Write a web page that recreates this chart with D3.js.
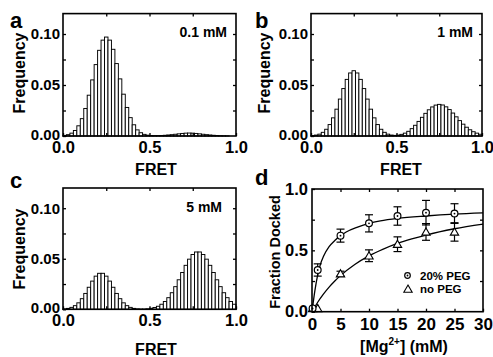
<!DOCTYPE html>
<html><head><meta charset="utf-8">
<script src="https://cdn.jsdelivr.net/npm/d3@7"></script>
<style>
body{margin:0;background:#fff}
svg{display:block}
text{font-family:"Liberation Sans",Arial,Helvetica,sans-serif;font-weight:bold;fill:#000}
</style>
</head><body>
<svg id="chart" width="493" height="357"></svg>
<script>
// ---------- data ----------
const fretBins = [0.01,0.03,0.05,0.07,0.09,0.11,0.13,0.15,0.17,0.19,0.21,0.23,0.25,0.27,0.29,0.31,0.33,0.35,0.37,0.39,
                  0.41,0.43,0.45,0.47,0.49,0.51,0.53,0.55,0.57,0.59,0.61,0.63,0.65,0.67,0.69,0.71,0.73,0.75,0.77,0.79,
                  0.81,0.83,0.85,0.87,0.89,0.91,0.93,0.95,0.97,0.99];
const binWidth = 0.02;
const freqA = [0.0006,0.0013,0.0028,0.0054,0.010,0.017,0.027,0.040,0.055,0.070,0.084,0.094,0.097,0.094,0.085,0.071,0.056,0.041,0.028,0.018,
               0.011,0.006,0.0032,0.0016,0.0008,0.0005,0.0004,0.0004,0.0005,0.0007,0.0010,0.0013,0.0017,0.0021,0.0025,0.0028,0.0029,0.0028,0.0025,0.0021,
               0.0017,0.0013,0.0010,0.0007,0.0005,0.0003,0.0002,0.0001,0,0];
const freqB = [0.0004,0.0009,0.0018,0.0036,0.0066,0.0112,0.0178,0.0263,0.0362,0.0465,0.0555,0.0618,0.064,0.0618,0.0555,0.0465,0.0362,0.0263,0.0178,0.0112,
               0.0066,0.0036,0.0018,0.0009,0.0006,0.0009,0.0016,0.0028,0.0046,0.0072,0.0105,0.0143,0.0183,0.0222,0.0257,0.0285,0.0303,0.031,0.0304,0.0286,
               0.0259,0.0225,0.0188,0.0151,0.0116,0.0086,0.0061,0.0042,0.0028,0.0017];
const freqC = [0.0004,0.0009,0.0019,0.0036,0.0064,0.0105,0.0157,0.0218,0.0279,0.0328,0.0356,0.0356,0.0328,0.0279,0.0218,0.0157,0.0105,0.0064,0.0036,0.0019,
               0.0009,0.0004,0.0002,0.0002,0.0005,0.0010,0.0018,0.0030,0.0050,0.0077,0.0115,0.0164,0.0224,0.0292,0.0364,0.0435,0.0496,0.0542,0.0567,0.0567,
               0.0542,0.0496,0.0435,0.0364,0.0292,0.0224,0.0164,0.0115,0.0077,0.0050];
const freqTickVals = [0, 0.025, 0.05, 0.075, 0.10];
const freqTickLabels = {"0": "0.00", "0.05": "0.05", "0.1": "0.10"};
const fretTickVals = [0, 0.25, 0.5, 0.75, 1.0];
const fretTickLabels = {"0": "0.0", "0.5": "0.5", "1": "1.0"};

const mgConc = [0.1, 1, 5, 10, 15, 20, 25];
const dockedPEG = [0.027, 0.34, 0.62, 0.72, 0.78, 0.807, 0.80];
const errPEG    = [0.0, 0.05, 0.053, 0.07, 0.075, 0.10, 0.08];
const dockedNoPEG = [0.027, 0.027, 0.31, 0.456, 0.55, 0.65, 0.65];
const errNoPEG    = [0.0, 0.0, 0.02, 0.048, 0.06, 0.068, 0.075];
const fitPEGx = [0, 0.5, 1, 1.5, 2, 3, 4, 5, 6, 8, 10, 12, 15, 20, 25, 30];
const fitPEGy = [0, 0.17, 0.30, 0.39, 0.45, 0.53, 0.58, 0.62, 0.65, 0.69, 0.72, 0.74, 0.76, 0.78, 0.795, 0.805];
const fitNoPEGx = [0, 1, 2, 3, 4, 5, 7.5, 10, 12.5, 15, 17.5, 20, 25, 30];
const fitNoPEGy = [0, 0.077, 0.143, 0.20, 0.25, 0.294, 0.385, 0.455, 0.51, 0.556, 0.593, 0.625, 0.676, 0.714];
const mgTickVals = [0, 5, 10, 15, 20, 25, 30];
const dockTickVals = [0, 0.25, 0.5, 0.75, 1.0];
const dockTickLabels = {"0": "0.0", "0.5": "0.5", "1": "1.0"};
const legendLabels = ["20% PEG", "no PEG"];

// ---------- drawing ----------
const svg = d3.select("#chart");
const TICK = 3;

function styleAxis(g){
  g.select(".domain").remove();
  g.selectAll(".tick line").attr("stroke","#000").attr("stroke-width",1.3);
  return g;
}

function frame(g, x0, x1, y0, y1){
  g.append("rect").attr("x",x0).attr("y",y0).attr("width",x1-x0).attr("height",y1-y0)
    .attr("fill","none").attr("stroke","#000").attr("stroke-width",1.6);
}

function histPanel(opt){
  const g = svg.append("g");
  const x = d3.scaleLinear().domain([0,1]).range([opt.x0,opt.x1]);
  const y = d3.scaleLinear().domain([0,0.12]).range([opt.y1,opt.y0]);
  const bw = x(binWidth) - x(0);
  g.selectAll("rect.bar").data(fretBins.map((c,i)=>({c, v: opt.data[i]})))
    .enter().append("rect").attr("class","bar")
    .attr("x", d => x(d.c - binWidth/2))
    .attr("width", bw)
    .attr("y", d => y(d.v))
    .attr("height", d => y(0) - y(d.v))
    .attr("fill","#fff").attr("stroke","#000").attr("stroke-width",0.95);

  // axes
  g.append("g").attr("transform",`translate(0,${opt.y1})`)
    .call(d3.axisBottom(x).tickValues(fretTickVals).tickSize(-TICK).tickPadding(5)
      .tickFormat(d => fretTickLabels[String(d)] || ""))
    .call(styleAxis)
    .call(a => a.selectAll("text").attr("font-size",16.5).attr("font-family",null));
  g.append("g").attr("transform",`translate(0,${opt.y0})`)
    .call(d3.axisTop(x).tickValues(fretTickVals.slice(1,-1)).tickSize(-TICK).tickFormat(""))
    .call(styleAxis);
  g.append("g").attr("transform",`translate(${opt.x0},0)`)
    .call(d3.axisLeft(y).tickValues(freqTickVals).tickSize(-TICK).tickPadding(3)
      .tickFormat(d => freqTickLabels[String(d)] || ""))
    .call(styleAxis)
    .call(a => a.selectAll("text").attr("font-size",15).attr("font-family",null))
    .call(a => a.selectAll(".tick").filter(d => d === 0).select("text").attr("dy","0.2em"));
  g.append("g").attr("transform",`translate(${opt.x1},0)`)
    .call(d3.axisRight(y).tickValues(freqTickVals.slice(1)).tickSize(-TICK).tickFormat(""))
    .call(styleAxis);
  frame(g, opt.x0, opt.x1, opt.y0, opt.y1);

  g.append("text").attr("x",opt.annX).attr("y",opt.annY).attr("text-anchor","end")
    .attr("font-size",14).text(opt.ann);
  g.append("text").attr("x",opt.letterX).attr("y",opt.letterY).attr("font-size",22).text(opt.letter);
  g.append("text").attr("transform",`translate(${opt.ylabX},${opt.ylabY}) rotate(-90)`)
    .attr("text-anchor","middle").attr("font-size",16).text("Frequency");
  g.append("text").attr("x",opt.xlabX).attr("y",opt.xlabY).attr("text-anchor","middle")
    .attr("font-size",16).text("FRET");
}

histPanel({x0:63, x1:236, y0:13.6, y1:136, data:freqA, ann:"0.1 mM", annX:227, annY:36.7,
  letter:"a", letterX:10, letterY:28, ylabX:25, ylabY:73, xlabX:156, xlabY:175});
histPanel({x0:311, x1:482, y0:13.6, y1:136, data:freqB, ann:"1 mM", annX:473, annY:36.7,
  letter:"b", letterX:255, letterY:28, ylabX:270, ylabY:73, xlabX:401, xlabY:175});
histPanel({x0:63, x1:236, y0:188, y1:309.3, data:freqC, ann:"5 mM", annX:222, annY:211.7,
  letter:"c", letterX:10, letterY:188, ylabX:25, ylabY:249, xlabX:156, xlabY:355});

// ---------- panel d ----------
(function(){
  const x0=312, x1=483, y0=189, y1=311.7;
  const g = svg.append("g");
  const x = d3.scaleLinear().domain([0,30]).range([x0,x1]);
  const y = d3.scaleLinear().domain([0,1]).range([y1,y0]);

  g.append("g").attr("transform",`translate(0,${y1})`)
    .call(d3.axisBottom(x).tickValues(mgTickVals).tickSize(-TICK).tickPadding(6))
    .call(styleAxis)
    .call(a => a.selectAll("text").attr("font-size",17).attr("font-family",null));
  g.append("g").attr("transform",`translate(0,${y0})`)
    .call(d3.axisTop(x).tickValues(mgTickVals.slice(1,-1)).tickSize(-TICK).tickFormat(""))
    .call(styleAxis);
  g.append("g").attr("transform",`translate(${x0},0)`)
    .call(d3.axisLeft(y).tickValues(dockTickVals).tickSize(-TICK).tickPadding(4)
      .tickFormat(d => dockTickLabels[String(d)] || ""))
    .call(styleAxis)
    .call(a => a.selectAll("text").attr("font-size",16.5).attr("font-family",null));
  g.append("g").attr("transform",`translate(${x1},0)`)
    .call(d3.axisRight(y).tickValues(dockTickVals.slice(1,-1)).tickSize(-TICK).tickFormat(""))
    .call(styleAxis);

  const line = d3.line().x(d=>x(d[0])).y(d=>y(d[1])).curve(d3.curveMonotoneX);
  g.append("path").datum(fitPEGx.map((v,i)=>[v,fitPEGy[i]])).attr("d",line)
    .attr("fill","none").attr("stroke","#000").attr("stroke-width",1.3);
  g.append("path").datum(fitNoPEGx.map((v,i)=>[v,fitNoPEGy[i]])).attr("d",line)
    .attr("fill","none").attr("stroke","#000").attr("stroke-width",1.3);

  function errBars(vals, errs){
    mgConc.forEach((c,i)=>{
      if(!errs[i]) return;
      const cx=x(c), yt=y(vals[i]+errs[i]), yb=y(vals[i]-errs[i]);
      g.append("line").attr("x1",cx).attr("x2",cx).attr("y1",yt).attr("y2",yb).attr("stroke","#000").attr("stroke-width",1.2);
      [yt,yb].forEach(yy=>g.append("line").attr("x1",cx-4).attr("x2",cx+4).attr("y1",yy).attr("y2",yy).attr("stroke","#000").attr("stroke-width",1.2));
    });
  }
  errBars(dockedPEG, errPEG);
  errBars(dockedNoPEG, errNoPEG);

  const tri = d3.symbol().type(d3.symbolTriangle).size(30);
  function circleMark(cx,cy,r){
    g.append("circle").attr("cx",cx).attr("cy",cy).attr("r",r).attr("fill","#fff").attr("stroke","#000").attr("stroke-width",1.2);
    g.append("circle").attr("cx",cx).attr("cy",cy).attr("r",0.9).attr("fill","#000");
  }
  function triMark(cx,cy){
    g.append("path").attr("d",tri).attr("transform",`translate(${cx},${cy+0.8})`).attr("fill","#fff").attr("stroke","#000").attr("stroke-width",1.1);
  }
  mgConc.forEach((c,i)=>triMark(x(c), y(dockedNoPEG[i])));
  mgConc.forEach((c,i)=>circleMark(x(c), y(dockedPEG[i]), 3.4));

  frame(g, x0, x1, y0, y1);

  // legend
  circleMark(407.5, 275.5, 2.8);
  triMark(408, 289);
  g.append("text").attr("x",420).attr("y",279.5).attr("font-size",11.5).text(legendLabels[0]);
  g.append("text").attr("x",420).attr("y",293.2).attr("font-size",11.5).text(legendLabels[1]);

  g.append("text").attr("x",255).attr("y",185).attr("font-size",22).text("d");
  g.append("text").attr("transform",`translate(280,252) rotate(-90)`).attr("text-anchor","middle")
    .attr("font-size",14.5).text("Fraction Docked");
  const t = g.append("text").attr("x",404).attr("y",352).attr("text-anchor","middle").attr("font-size",16);
  t.append("tspan").text("[Mg");
  t.append("tspan").attr("font-size",10).attr("dy",-7).text("2+");
  t.append("tspan").attr("dy",7).text("] (mM)");
})();
</script>
</body></html>
